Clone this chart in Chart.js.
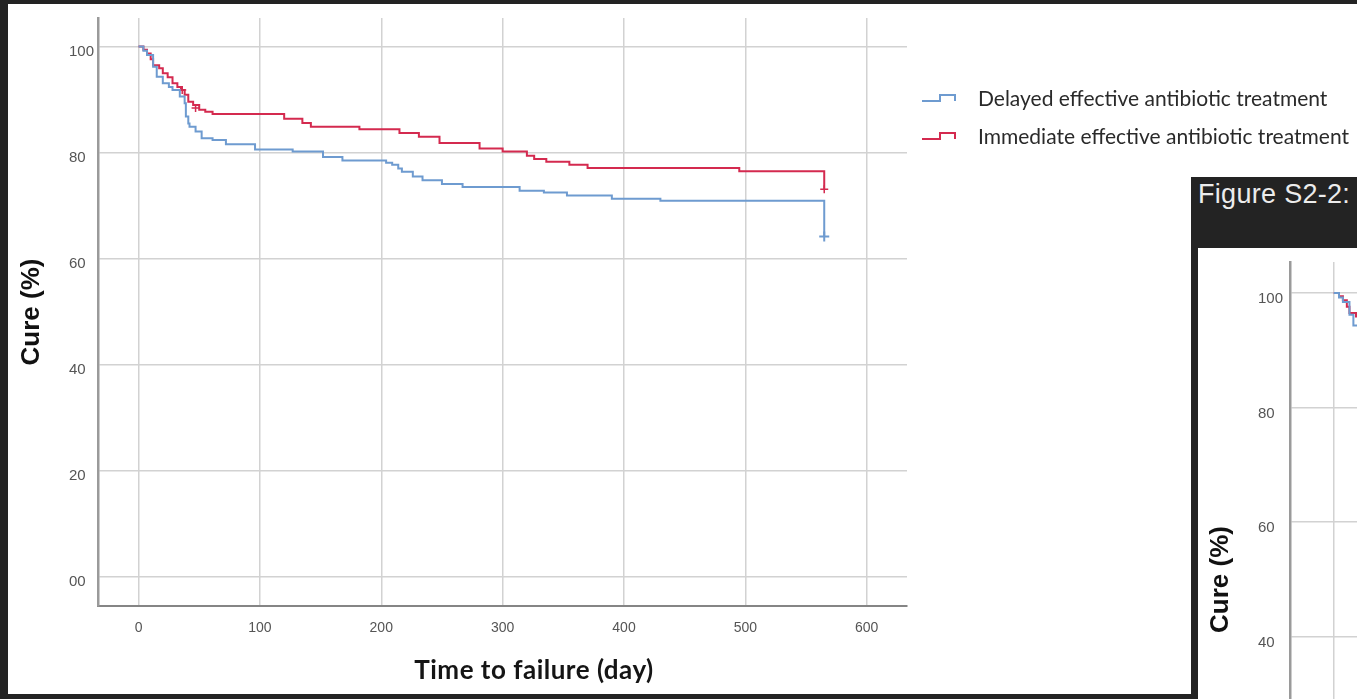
<!DOCTYPE html>
<html>
<head>
<meta charset="utf-8">
<script src="https://cdn.jsdelivr.net/npm/chart.js@4.4.1/dist/chart.umd.min.js"></script>
<style>
  html, body { margin: 0; padding: 0; width: 1357px; height: 699px; overflow: hidden; background: #232323; }
  #panel { position: absolute; left: 8px; top: 4px; width: 1349px; height: 690px; background: #ffffff; }
  #main { position: absolute; left: 0; top: 0; z-index: 1; }
  #xtitle { position: absolute; left: 534px; top: 653px; transform: translateX(-50%); white-space: nowrap;
            font-family: Lato, sans-serif; font-weight: bold; font-size: 26px; letter-spacing: 0.5px; line-height: normal; color: #151515; z-index: 2; }
  .lrow { position: absolute; left: 921px; height: 26px; white-space: nowrap; z-index: 2; }
  .lrow svg { position: absolute; left: 0; }
  .lrow span { position: absolute; left: 57px; top: 0; font-family: Lato, sans-serif; font-size: 21px; line-height: normal; color: #2a2a2a; }
  #side { position: absolute; left: 1191px; top: 177px; width: 166px; height: 522px; background: #232323; z-index: 3; }
  #sidehead { position: absolute; left: 7px; top: 2px; font-family: "Liberation Sans", Arial, sans-serif; font-size: 27px; letter-spacing: 0.3px; line-height: normal; color: #ececec; white-space: nowrap; }
  #sidebody { position: absolute; left: 7px; top: 71px; width: 159px; height: 451px; background: #ffffff; overflow: hidden; }
  #side2 { position: absolute; left: 0; top: 0; }
</style>
</head>
<body>
<div id="panel"></div>
<canvas id="main" width="1357" height="699"></canvas>
<div id="xtitle">Time to failure (day)</div>
<div id="legend"></div>
<div id="side">
  <div id="sidehead">Figure S2-2:</div>
  <div id="sidebody"><canvas id="side2" width="1000" height="740"></canvas></div>
</div>
<script>
// ---- data ----
const seriesNames = ['Delayed effective antibiotic treatment', 'Immediate effective antibiotic treatment'];
const xTicks = [0, 100, 200, 300, 400, 500, 600];
const yTicks = [0, 20, 40, 60, 80, 100];
const yTickLabels = ['00', '20', '40', '60', '80', '100'];

const delayedDays = [0, 4, 7, 12, 15, 20, 25, 28, 34, 38, 39, 41, 42, 47, 52, 61, 72, 96, 127, 152, 168, 204, 209, 214, 217, 226, 234, 250, 267, 314, 334, 353, 390, 430, 565];
const delayedCure = [100, 99.2, 98.4, 96.2, 94.3, 93.1, 92.4, 91.8, 90.6, 89.3, 86.8, 85.5, 84.9, 84.0, 82.7, 82.4, 81.6, 80.6, 80.2, 79.2, 78.5, 78.1, 77.7, 77.0, 76.4, 75.5, 74.8, 74.1, 73.5, 72.8, 72.5, 71.9, 71.3, 70.9, 64.2];

const immediateDays = [0, 4, 7, 10, 12, 17, 20, 24, 28, 32, 35, 38, 41, 45, 50, 55, 61, 120, 135, 142, 182, 215, 231, 248, 281, 300, 320, 326, 336, 355, 370, 495, 565];
const immediateCure = [100, 99.4, 98.7, 97.6, 96.5, 95.9, 95.0, 94.2, 93.1, 92.4, 91.8, 90.9, 89.6, 89.0, 88.1, 87.7, 87.3, 86.4, 85.6, 84.9, 84.4, 83.7, 83.0, 81.8, 80.8, 80.2, 79.4, 78.8, 78.3, 77.7, 77.1, 76.5, 73.1];

const delayedCensorDays = [565];
const delayedCensorCure = [64.2];
const immediateCensorDays = [36, 47, 565];
const immediateCensorCure = [91.8, 88.4, 73.1];

const colorDelayed = '#6e9bd0';
const colorImmediate = '#d42a4f';

const pts = (xs, ys) => xs.map((x, i) => ({ x: x, y: ys[i] }));

function makeDatasets(lw) {
  return [
    { label: seriesNames[0], data: pts(delayedDays, delayedCure), borderColor: colorDelayed, backgroundColor: colorDelayed,
      borderWidth: lw, stepped: 'before', pointRadius: 0, showLine: true, fill: false },
    { label: seriesNames[1], data: pts(immediateDays, immediateCure), borderColor: colorImmediate, backgroundColor: colorImmediate,
      borderWidth: lw, stepped: 'before', pointRadius: 0, showLine: true, fill: false },
    { label: 'censorDelayed', data: pts(delayedCensorDays, delayedCensorCure), borderColor: colorDelayed, backgroundColor: colorDelayed,
      showLine: false, pointStyle: 'cross', pointRadius: 5, pointBorderWidth: 2 },
    { label: 'censorImmediate', data: pts(immediateCensorDays, immediateCensorCure), borderColor: colorImmediate, backgroundColor: colorImmediate,
      showLine: false, pointStyle: 'cross', pointRadius: 4, pointBorderWidth: 1.5 }
  ];
}

function makeOptions(cfg) {
  return {
    responsive: false,
    animation: false,
    devicePixelRatio: 1,
    layout: { padding: { left: cfg.left, top: cfg.top, right: cfg.right, bottom: 0 } },
    plugins: { legend: { display: false }, tooltip: { enabled: false } },
    scales: {
      x: {
        type: 'linear', min: -33.4, max: 633.2,
        afterBuildTicks: s => { s.ticks = xTicks.map(v => ({ value: v })); },
        afterFit: s => { s.height = cfg.xh; },
        grid: { color: '#d2d2d2', lineWidth: 1.5, drawTicks: false },
        border: { display: true, color: '#858585', width: 2 },
        ticks: { padding: 14, color: '#555', font: { family: 'Liberation Sans', size: 14 },
                 callback: v => String(v), maxRotation: 0, autoSkip: false }
      },
      y: {
        type: 'linear', min: -5.53, max: 105.4,
        afterBuildTicks: s => { s.ticks = yTicks.map(v => ({ value: v })); },
        afterFit: s => { s.width = cfg.yw; },
        grid: { color: '#d2d2d2', lineWidth: 1.5, drawTicks: false },
        border: { display: true, color: '#9a9a9a', width: 2.5 },
        ticks: { padding: 4, labelOffset: cfg.labelOffset, color: '#555', crossAlign: 'far',
                 font: { family: 'Liberation Sans', size: cfg.tickSize },
                 callback: v => yTickLabels[yTicks.indexOf(v)], autoSkip: false },
        title: { display: true, text: 'Cure (%)', color: '#111',
                 font: { family: 'Liberation Sans', weight: 'bold', size: cfg.titleSize },
                 padding: { top: cfg.titlePad, bottom: 0 } }
      }
    }
  };
}

// main chart: tick labels left-aligned at x=69, axis at x=98
const mainChart = new Chart(document.getElementById('main'), {
  type: 'scatter',
  data: { datasets: makeDatasets(2) },
  options: makeOptions({ left: 69, top: 18, right: 450, xh: 93, yw: 29, labelOffset: 5, tickSize: 15, titleSize: 26, titlePad: -52.6 })
});

// partially visible second figure on the right
new Chart(document.getElementById('side2'), {
  type: 'scatter',
  data: { datasets: makeDatasets(2) },
  options: makeOptions({ left: 60, top: 14, right: 35, xh: 91, yw: 32, labelOffset: 6, tickSize: 15, titleSize: 26, titlePad: -52.6 })
});

// legend built from the chart's own datasets
const legend = document.getElementById('legend');
const rowBaselines = [106, 143.5];
mainChart.data.datasets.slice(0, 2).forEach((ds, i) => {
  const row = document.createElement('div');
  row.className = 'lrow';
  row.style.top = (rowBaselines[i] - 20.7) + 'px';
  row.innerHTML = '<svg width="36" height="12" style="top:7px">' +
    '<path d="M1,9 H19 V3 H34 V9" fill="none" stroke="' + ds.borderColor + '" stroke-width="2"/></svg>' +
    '<span>' + ds.label + '</span>';
  legend.appendChild(row);
});
</script>
</body>
</html>
